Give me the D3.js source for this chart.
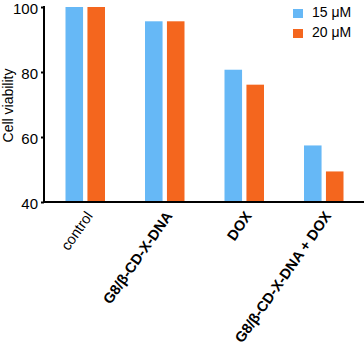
<!DOCTYPE html>
<html><head><meta charset="utf-8">
<script src="https://cdn.jsdelivr.net/npm/d3@7"></script>
<style>body{margin:0;background:#fff}svg{display:block}text{font-family:"Liberation Sans",Arial,sans-serif;fill:#000}</style>
</head><body><svg id="c" width="364" height="347"></svg>
<script>
const categories = ["control", "G8/β-CD-X-DNA", "DOX", "G8/β-CD-X-DNA + DOX"];
const boldCats = [false, true, true, true];
const seriesNames = ["15 μM", "20 μM"];
const values15 = [100, 95.6, 80.7, 57.4];
const values20 = [100, 95.6, 76.1, 49.4];
const yTicks = [40, 60, 80, 100];
const colors = ["#66B8F6", "#F4661E"];

const svg = d3.select("#c");
const axisX = 44, axisY = 202;
const y = d3.scaleLinear().domain([40, 100]).range([axisY, 7]);
const x = d3.scaleBand().domain(categories).range([45.5, 363.5]).padding(0);
const sub = d3.scaleBand().domain(seriesNames).range([-19.75, 19.75]).paddingInner(0.2);
const series = [values15, values20];

categories.forEach((c, i) => {
  const cx = x(c) + x.bandwidth() / 2;
  seriesNames.forEach((s, j) => {
    const v = series[j][i];
    svg.append("rect")
      .attr("x", cx + sub(s)).attr("width", sub.bandwidth())
      .attr("y", y(v)).attr("height", y(40) - y(v))
      .attr("fill", colors[j]);
  });
});

// y axis
const ya = svg.append("g").attr("transform", `translate(${axisX},0)`)
  .call(d3.axisLeft(y).tickValues(yTicks).tickSize(3).tickPadding(3).tickFormat(d3.format("d")));
ya.select(".domain").remove();
ya.selectAll(".tick line").attr("stroke", "#000").attr("stroke-width", 2);
ya.selectAll(".tick text").attr("font-size", 15).attr("dy", "0.45em")
  .style("font-family", '"Liberation Sans",Arial,sans-serif');
svg.append("line").attr("x1", axisX).attr("x2", axisX).attr("y1", y(100) - 1).attr("y2", axisY + 1)
  .attr("stroke", "#000").attr("stroke-width", 2);
svg.append("line").attr("x1", axisX - 1).attr("x2", 364).attr("y1", axisY).attr("y2", axisY)
  .attr("stroke", "#000").attr("stroke-width", 2);

// y title
svg.append("text").attr("transform", "translate(13,105.5) rotate(-90)")
  .attr("text-anchor", "middle").attr("font-size", 14).text("Cell viability");

// x labels
categories.forEach((c, i) => {
  const cx = x(c) + x.bandwidth() / 2;
  svg.append("text")
    .attr("transform", `translate(${cx + 4},${axisY + 11}) rotate(-55)`)
    .attr("text-anchor", "end").attr("font-size", 14.5)
    .attr("font-weight", boldCats[i] ? "bold" : "normal")
    .attr("dy", "0.35em")
    .text(c);
});

// legend
seriesNames.forEach((s, j) => {
  const ly = 9 + j * 20;
  svg.append("rect").attr("x", 293).attr("y", ly).attr("width", 10).attr("height", 9).attr("fill", colors[j]);
  svg.append("text").attr("x", 312).attr("y", ly + 8).attr("font-size", 14).text(s);
});
</script></body></html>
